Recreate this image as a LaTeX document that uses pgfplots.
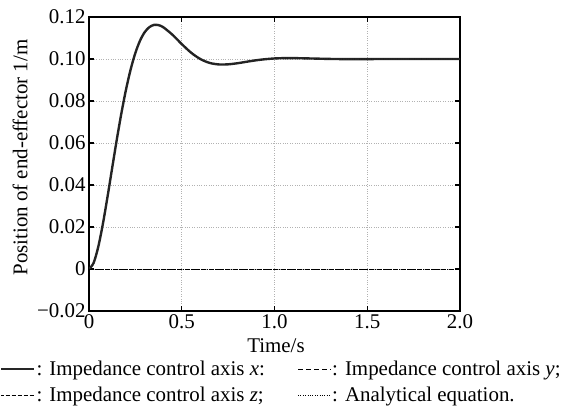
\documentclass[border=0pt]{standalone}
\usepackage{fontspec}
\setmainfont{Liberation Serif}
\usepackage{pgfplots}
\usepackage{pgfplotstable}
\pgfplotsset{compat=1.18}
\pgfplotstableread{
t y
0 0
0.025 0.00292
0.05 0.01060
0.075 0.02156
0.1 0.03448
0.125 0.04816
0.15 0.06170
0.175 0.07435
0.2 0.08563
0.225 0.09519
0.25 0.10290
0.275 0.10872
0.3 0.11275
0.325 0.11515
0.35 0.11623
0.375 0.11612
0.4 0.11515
0.45 0.11154
0.5 0.10711
0.55 0.10304
0.6 0.09999
0.65 0.09814
0.7 0.09741
0.75 0.09747
0.8 0.09798
0.85 0.09870
0.9 0.09938
0.95 0.09990
1.0 0.10026
1.05 0.10041
1.1 0.10043
1.2 0.10024
1.3 0.10003
1.4 0.09994
1.5 0.09996
1.6 0.10000
1.7 0.10000
1.8 0.10000
1.9 0.10000
2.0 0.10000
}\xdata
\begin{document}
\begin{tikzpicture}[font=\fontsize{21}{25}\selectfont]
\begin{axis}[
 scale only axis, width=371bp, height=294bp,
 xmin=0, xmax=2, ymin=-0.02, ymax=0.12,
 xtick={0,0.5,1,1.5,2}, xticklabels={0,0.5,1.0,1.5,2.0},
 ytick={-0.02,0,0.02,0.04,0.06,0.08,0.10,0.12},
 yticklabels={−0.02,0,0.02,0.04,0.06,0.08,0.10,0.12},
 tick align=inside, major tick length=5bp,
 tick style={black, line width=1.2pt},
 axis line style={line width=1.5pt},
 grid=major, major grid style={gray!60, dotted, line width=0.9pt},
 xlabel={Time/s}, ylabel={Position of end-effector 1/m},
 xlabel style={at={(axis description cs:0.504,-0.119)}, anchor=center},
 ylabel style={at={(axis description cs:-0.186,0.522)}, anchor=center},
 legend columns=2,
 legend cell align=left,
 legend style={draw=none, fill=none, at={(axis description cs:-0.24,-0.165)}, anchor=north west,
   font=\fontsize{21}{25}\selectfont, inner sep=0pt, nodes={inner sep=1bp},
   /tikz/every even column/.append style={column sep=32bp}, row sep=8bp},
 legend image code/.code={\draw[#1] (0bp,0bp) -- (33bp,0bp);},
]
\addplot[line width=2.4pt, color=black!85, smooth, line join=round] table[x=t,y=y] {\xdata};
\addlegendentry{: Impedance control axis \textit{x}:}
\addplot[dash pattern=on 5bp off 3bp, thin, black] coordinates {(0,0) (2,0)};
\addlegendentry{: Impedance control axis \textit{y};}
\addplot[dash pattern=on 3bp off 1.2bp on 0.6bp off 1.2bp, thin, black] coordinates {(0,0) (2,0)};
\addlegendentry{: Impedance control axis \textit{z};}
\addplot[dotted, thin, black, smooth] table[x=t,y=y] {\xdata};
\addlegendentry{: Analytical equation.}
\end{axis}
\pgfresetboundingbox
\path ([shift={(-89bp,311bp)}]current axis.south west) rectangle ([shift={(477bp,-95bp)}]current axis.south west);
\end{tikzpicture}
\end{document}
